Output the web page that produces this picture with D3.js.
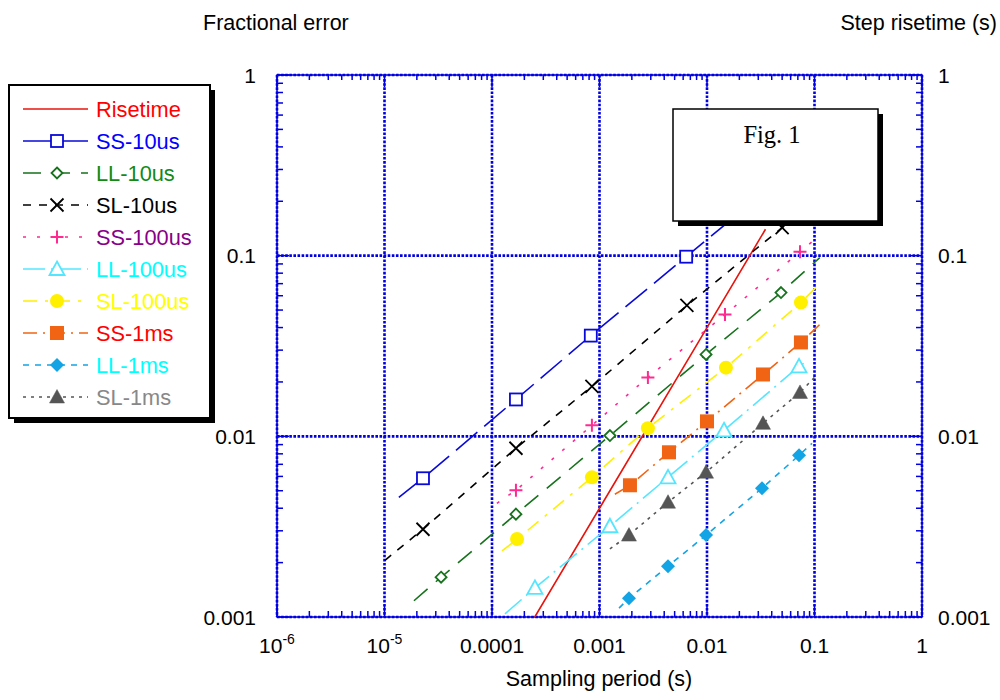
<!DOCTYPE html>
<html>
<head>
<meta charset="utf-8">
<script src="https://cdn.jsdelivr.net/npm/d3@7"></script>
<style>
  body { margin: 0; background: #fff; }
  text { font-family: "Liberation Sans", Arial, Helvetica, sans-serif; }
</style>
</head>
<body>
<div id="viz"></div>
<script>
// sampling period (s) vs fractional error
// first and last point of each series are line ends only, the rest carry a marker
var risetime = [[2.5e-4, 0.001], [1e-3, 0.004], [0.01, 0.04], [0.035, 0.14]];
var ss10us  = [[1.36e-5, 0.0046], [2.28e-5, 0.00586], [1.67e-4, 0.016], [8.3e-4, 0.0361], [6.4e-3, 0.0987], [0.05, 0.27], [0.1, 0.38]];
var ll10us  = [[1.88e-5, 0.00123], [3.36e-5, 0.00166], [1.67e-4, 0.00371], [1.25e-3, 0.0101], [9.8e-3, 0.0284], [0.0488, 0.0625], [0.112, 0.0975]];
var sl10us  = [[1.01e-5, 0.00206], [2.28e-5, 0.00306], [1.67e-4, 0.00859], [8.5e-4, 0.0189], [6.5e-3, 0.053], [0.05, 0.143], [0.1, 0.2]];
var ss100us = [[1.11e-4, 0.00426], [1.67e-4, 0.00503], [8.5e-4, 0.0115], [2.82e-3, 0.0212], [0.0147, 0.0472], [0.0733, 0.105], [0.1, 0.1225]];
var ll100us = [[1.32e-4, 0.00104], [2.51e-4, 0.00145], [1.25e-3, 0.00318], [4.34e-3, 0.00593], [0.0144, 0.0108], [0.0718, 0.0244], [0.0871, 0.0263]];
var sl100us = [[1.24e-4, 0.00232], [1.71e-4, 0.0027], [8.5e-4, 0.00593], [2.82e-3, 0.0111], [0.015, 0.024], [0.0748, 0.055], [0.105, 0.0674]];
var ss1ms   = [[1.39e-3, 0.00478], [1.92e-3, 0.00536], [4.43e-3, 0.00816], [0.01, 0.0121], [0.0332, 0.022], [0.0748, 0.0331], [0.112, 0.0416]];
var ll1ms   = [[1.52e-3, 0.00112], [1.88e-3, 0.00127], [4.34e-3, 0.00191], [9.8e-3, 0.00284], [0.0325, 0.00516], [0.0718, 0.00785], [0.0948, 0.00915]];
var sl1ms   = [[1.25e-3, 0.00238], [1.88e-3, 0.00284], [4.34e-3, 0.00432], [9.8e-3, 0.00633], [0.0332, 0.0118], [0.0733, 0.0175], [0.1, 0.0212]];

var seriesNames = ["Risetime", "SS-10us", "LL-10us", "SL-10us", "SS-100us", "LL-100us", "SL-100us", "SS-1ms", "LL-1ms", "SL-1ms"];
var seriesData = [risetime, ss10us, ll10us, sl10us, ss100us, ll100us, sl100us, ss1ms, ll1ms, sl1ms];

var xTickVals = [1e-6, 1e-5, 1e-4, 1e-3, 0.01, 0.1, 1];
var xTickText = [["10", "-6"], ["10", "-5"], ["0.0001"], ["0.001"], ["0.01"], ["0.1"], ["1"]];
var yTickVals = [0.001, 0.01, 0.1, 1];
var yTickText = ["0.001", "0.01", "0.1", "1"];

// styles
var lineColor = ["#e8140c", "#0a0ad8", "#16721c", "#000000", "#ff2a92", "#55e6ff", "#fff000", "#f06414", "#12a4e4", "#555555"];
var textColor = ["#ff0000", "#0000ff", "#138a13", "#000000", "#880088", "#00ffff", "#ffff00", "#ff0000", "#00ffff", "#888888"];
var dashes = [null, "28,9", "18,11", "8,8", "3,11", "22,6,2,6", "14,8,3,8", "14,6,2,6", "6,6", "3,5"];
var markers = [null, "sq", "dia", "x", "plus", "tri", "circ", "fsq", "fdia", "ftri"];

var W = 1000, H = 700;
var x0 = 277, x1 = 922, y0 = 75, y1 = 617;
var blue = "#0000e0";

var x = d3.scaleLog().domain([1e-6, 1]).range([x0, x1]);
var y = d3.scaleLog().domain([0.001, 1]).range([y1, y0]);

var svg = d3.select("#viz").append("svg").attr("width", W).attr("height", H);

svg.append("clipPath").attr("id", "plotclip").append("rect")
  .attr("x", x0).attr("y", y0).attr("width", x1 - x0).attr("height", y1 - y0);

// grid, dotted
var grid = svg.append("g").attr("stroke", blue).attr("stroke-width", 2.6).attr("stroke-dasharray", "2.6,1.5");
xTickVals.forEach(function(v) {
  grid.append("line").attr("x1", x(v)).attr("x2", x(v)).attr("y1", y0).attr("y2", y1);
});
yTickVals.forEach(function(v) {
  grid.append("line").attr("y1", y(v)).attr("y2", y(v)).attr("x1", x0).attr("x2", x1);
});

// frame
svg.append("rect").attr("x", x0).attr("y", y0).attr("width", x1 - x0).attr("height", y1 - y0)
  .attr("fill", "none").attr("stroke", blue).attr("stroke-width", 1.5);

// ticks (inside on all four sides)
var ticks = svg.append("g").attr("stroke", blue).attr("stroke-width", 1.5);
x.ticks().forEach(function(v) {
  var major = Math.abs(Math.log10(v) - Math.round(Math.log10(v))) < 1e-6;
  var len = major ? 12 : 6;
  ticks.append("line").attr("x1", x(v)).attr("x2", x(v)).attr("y1", y1).attr("y2", y1 - len);
  ticks.append("line").attr("x1", x(v)).attr("x2", x(v)).attr("y1", y0).attr("y2", y0 + (major ? 12 : 5));
});
y.ticks().forEach(function(v) {
  var major = Math.abs(Math.log10(v) - Math.round(Math.log10(v))) < 1e-6;
  var len = major ? 12 : 6;
  ticks.append("line").attr("y1", y(v)).attr("y2", y(v)).attr("x1", x0).attr("x2", x0 + len);
  ticks.append("line").attr("y1", y(v)).attr("y2", y(v)).attr("x1", x1).attr("x2", x1 - len);
});

// tick labels
xTickVals.forEach(function(v, i) {
  var t = svg.append("text").attr("x", x(v)).attr("y", 653).attr("text-anchor", "middle")
    .attr("font-size", 21).attr("fill", "#000");
  t.append("tspan").text(xTickText[i][0]);
  if (xTickText[i].length > 1) {
    t.append("tspan").attr("font-size", 14).attr("dy", -9).text(xTickText[i][1]);
  }
});
yTickVals.forEach(function(v, i) {
  svg.append("text").attr("x", 256).attr("y", y(v)).attr("dy", "0.36em").attr("text-anchor", "end")
    .attr("font-size", 21).text(yTickText[i]);
  svg.append("text").attr("x", 938).attr("y", y(v)).attr("dy", "0.36em").attr("text-anchor", "start")
    .attr("font-size", 21).text(yTickText[i]);
});

// axis titles
svg.append("text").attr("x", 203).attr("y", 30).attr("font-size", 21.5).text("Fractional error");
svg.append("text").attr("x", 997).attr("y", 30).attr("text-anchor", "end").attr("font-size", 21.5).text("Step risetime (s)");
svg.append("text").attr("x", 599).attr("y", 686).attr("text-anchor", "middle").attr("font-size", 21.5).text("Sampling period (s)");

function drawMarker(g, type, cx, cy, color) {
  var s;
  if (type === "sq") {
    g.append("rect").attr("x", cx - 6).attr("y", cy - 6).attr("width", 12).attr("height", 12)
      .attr("fill", "#fff").attr("stroke", color).attr("stroke-width", 1.8);
  } else if (type === "dia") {
    s = 5.5;
    g.append("path").attr("d", "M" + cx + "," + (cy - s) + "L" + (cx + s) + "," + cy + "L" + cx + "," + (cy + s) + "L" + (cx - s) + "," + cy + "Z")
      .attr("fill", "#fff").attr("stroke", color).attr("stroke-width", 1.8);
  } else if (type === "x") {
    s = 6.5;
    g.append("path").attr("d", "M" + (cx - s) + "," + (cy - s) + "L" + (cx + s) + "," + (cy + s) + "M" + (cx - s) + "," + (cy + s) + "L" + (cx + s) + "," + (cy - s))
      .attr("stroke", color).attr("stroke-width", 1.8).attr("fill", "none");
  } else if (type === "plus") {
    s = 6.5;
    g.append("path").attr("d", "M" + (cx - s) + "," + cy + "L" + (cx + s) + "," + cy + "M" + cx + "," + (cy - s) + "L" + cx + "," + (cy + s))
      .attr("stroke", color).attr("stroke-width", 2).attr("fill", "none");
  } else if (type === "tri" || type === "ftri") {
    s = 7.5;
    g.append("path").attr("d", "M" + cx + "," + (cy - s) + "L" + (cx + s) + "," + (cy + s * 0.8) + "L" + (cx - s) + "," + (cy + s * 0.8) + "Z")
      .attr("fill", type === "tri" ? "#fff" : color).attr("stroke", color).attr("stroke-width", type === "tri" ? 1.8 : 0.5);
  } else if (type === "circ") {
    g.append("circle").attr("cx", cx).attr("cy", cy).attr("r", 7).attr("fill", color);
  } else if (type === "fsq") {
    g.append("rect").attr("x", cx - 7).attr("y", cy - 7).attr("width", 14).attr("height", 14).attr("fill", color);
  } else if (type === "fdia") {
    s = 7;
    g.append("path").attr("d", "M" + cx + "," + (cy - s) + "L" + (cx + s) + "," + cy + "L" + cx + "," + (cy + s) + "L" + (cx - s) + "," + cy + "Z")
      .attr("fill", color);
  }
}

var line = d3.line().x(function(d) { return x(d[0]); }).y(function(d) { return y(d[1]); });

var plot = svg.append("g").attr("clip-path", "url(#plotclip)");
seriesData.forEach(function(pts, i) {
  plot.append("path").datum(pts).attr("d", line).attr("fill", "none")
    .attr("stroke", lineColor[i]).attr("stroke-width", 1.6)
    .attr("stroke-dasharray", dashes[i]);
});
seriesData.forEach(function(pts, i) {
  if (!markers[i]) return;
  pts.slice(1, -1).forEach(function(d) {
    drawMarker(plot, markers[i], x(d[0]), y(d[1]), lineColor[i]);
  });
});

// Fig. 1 box
svg.append("rect").attr("x", 678).attr("y", 114).attr("width", 205).attr("height", 112).attr("fill", "#000");
svg.append("rect").attr("x", 673).attr("y", 109).attr("width", 205).attr("height", 112)
  .attr("fill", "#fff").attr("stroke", "#000").attr("stroke-width", 1.5);
svg.append("text").attr("x", 772).attr("y", 143).attr("text-anchor", "middle")
  .style("font-family", "'Liberation Serif', 'Times New Roman', serif").attr("font-size", 24.5).text("Fig. 1");

// legend
var lg = svg.append("g");
lg.append("rect").attr("x", 14).attr("y", 90).attr("width", 201).attr("height", 333).attr("fill", "#000");
lg.append("rect").attr("x", 9).attr("y", 85).attr("width", 201).attr("height", 333)
  .attr("fill", "#fff").attr("stroke", "#000").attr("stroke-width", 2);
seriesNames.forEach(function(name, i) {
  var ly = 109 + i * 32;
  lg.append("line").attr("x1", 23).attr("x2", 88).attr("y1", ly).attr("y2", ly)
    .attr("stroke", lineColor[i]).attr("stroke-width", 1.6).attr("stroke-dasharray", dashes[i]);
  if (markers[i]) drawMarker(lg, markers[i], 57, ly, lineColor[i]);
  lg.append("text").attr("x", 96).attr("y", ly).attr("dy", "0.36em").attr("font-size", 21.8)
    .attr("fill", textColor[i]).text(name);
});
</script>
</body>
</html>
